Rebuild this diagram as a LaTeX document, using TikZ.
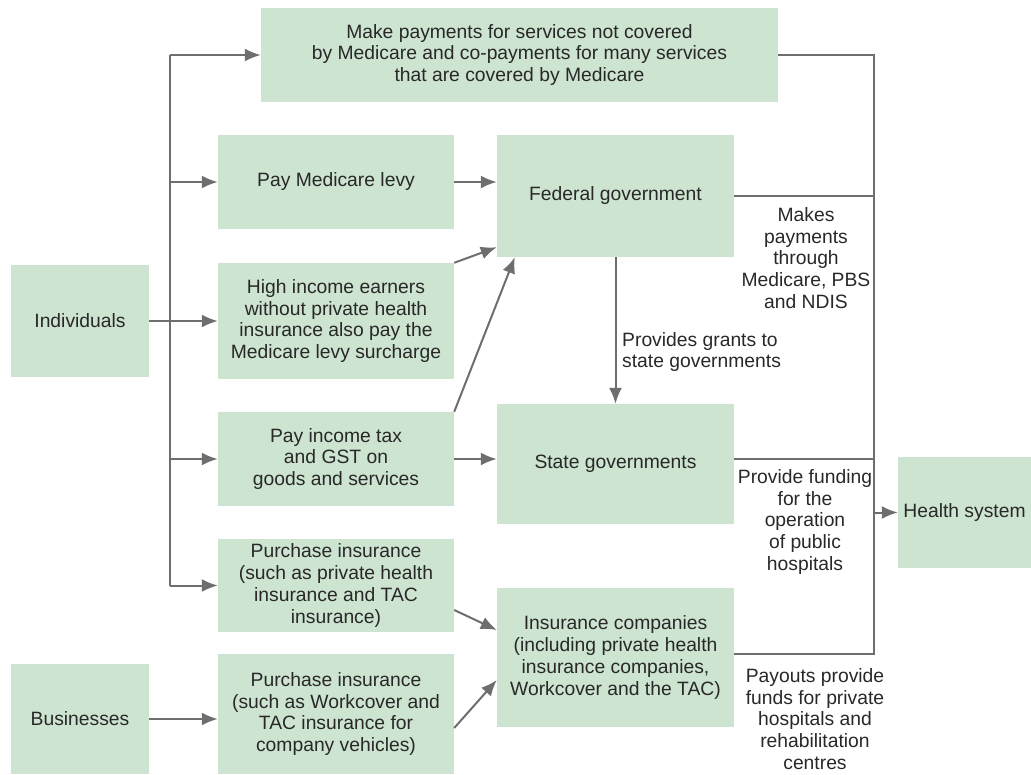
\documentclass[tikz,border=0pt]{standalone}
\usepackage{fontspec}
\setmainfont{Liberation Sans}
\usetikzlibrary{arrows.meta}
\definecolor{boxgreen}{RGB}{205,228,208}
\definecolor{linegray}{RGB}{110,110,110}
\definecolor{textgray}{RGB}{40,40,40}

\begin{document}
\begin{tikzpicture}[x=1pt,y=-1pt,>={Latex[length=16pt,width=13pt]},
    font=\fontsize{19.3}{21.7}\selectfont,
    box/.style={rectangle,fill=boxgreen,text=textgray,align=center,inner sep=0pt},
    flow/.style={draw=linegray,line width=2pt},
    note/.style={text=textgray,align=center,inner sep=0pt}]
    \useasboundingbox (0,0) rectangle (1031,774);
    % sources
    \node[box,minimum width=138pt,minimum height=112pt] (indiv) at (80,321) {Individuals};
    \node[box,minimum width=138pt,minimum height=110pt] (biz) at (80,719) {Businesses};
    % payments
    \node[box,minimum width=517pt,minimum height=94pt] (copay) at (519.5,55) {Make payments for services not covered\\by Medicare and co-payments for many services\\that are covered by Medicare};
    \node[box,minimum width=236pt,minimum height=94pt] (levy) at (336,182) {Pay Medicare levy};
    \node[box,minimum width=236pt,minimum height=116pt] (surcharge) at (336,321) {High income earners\\without private health\\insurance also pay the\\Medicare levy surcharge};
    \node[box,minimum width=236pt,minimum height=94pt] (tax) at (336,459) {Pay income tax\\and GST on\\goods and services};
    \node[box,minimum width=236pt,minimum height=93pt] (privins) at (336,585.5) {Purchase insurance\\(such as private health\\insurance and TAC\\insurance)};
    \node[box,minimum width=236pt,minimum height=120pt] (bizins) at (336,714) {Purchase insurance\\(such as Workcover and\\TAC insurance for\\company vehicles)};
    % funders
    \node[box,minimum width=237pt,minimum height=122pt] (fed) at (615.5,196) {Federal government};
    \node[box,minimum width=237pt,minimum height=120pt] (state) at (615.5,464) {State governments};
    \node[box,minimum width=237pt,minimum height=139pt] (inscos) at (615.5,657.5) {Insurance companies\\(including private health\\insurance companies,\\Workcover and the TAC)};
    \node[box,minimum width=133pt,minimum height=111pt] (health) at (964.5,512.5) {Health system};
    % spines
    \coordinate (lspine) at (170,55);
    \coordinate (lend) at (170,585.5);
    \coordinate (rspine) at (874,55);
    \coordinate (rend) at (874,654);
    \draw[flow] (lspine) -- (lend);
    \draw[flow,->] (lspine) -- (copay.west);
    \draw[flow,->] (lspine |- levy.west) -- (levy.west);
    \draw[flow,->] (indiv.east) -- (surcharge.west);
    \draw[flow,->] (lspine |- tax.west) -- (tax.west);
    \draw[flow,->] (lend) -- (privins.west);
    \draw[flow,->] (biz.east) -- (biz.east -| bizins.west);
    % into the funders
    \draw[flow,->] (levy.east) -- (levy.east -| fed.west);
    \draw[flow,->] (surcharge.north east) -- ([yshift=10pt]fed.south west);
    \draw[flow,->] (tax.north east) -- ([xshift=18pt]fed.south west);
    \draw[flow,->] (tax.east) -- (tax.east -| state.west);
    \draw[flow,->] (fed) -- (state);
    \draw[flow,->] ([yshift=-24.5pt]privins.east) -- ([yshift=27.5pt]inscos.west);
    \draw[flow,->] ([yshift=-14pt]bizins.east) -- ([yshift=-22.5pt]inscos.west);
    % out to the health system
    \draw[flow] (copay.east |- rspine) -- (rspine) -- (rend) -- (inscos.east |- rend);
    \draw[flow] (fed.east) -- (fed.east -| rspine);
    \draw[flow] (state.east |- tax.east) -- (rspine |- tax.east);
    \draw[flow,->] (rspine |- health.west) -- (health.west);
    % labels
    \node[note] (makes) at (806,258) {Makes\\payments\\through\\Medicare, PBS\\and NDIS};
    \node[note,anchor=west,align=left] (grants) at (622,352) {Provides grants to\\state governments};
    \node[note] (funding) at (805,522) {Provide funding\\for the\\operation\\of public\\hospitals};
    \node[note] (payouts) at (815,719) {Payouts provide\\funds for private\\hospitals and\\rehabilitation\\centres};
\end{tikzpicture}
\end{document}
